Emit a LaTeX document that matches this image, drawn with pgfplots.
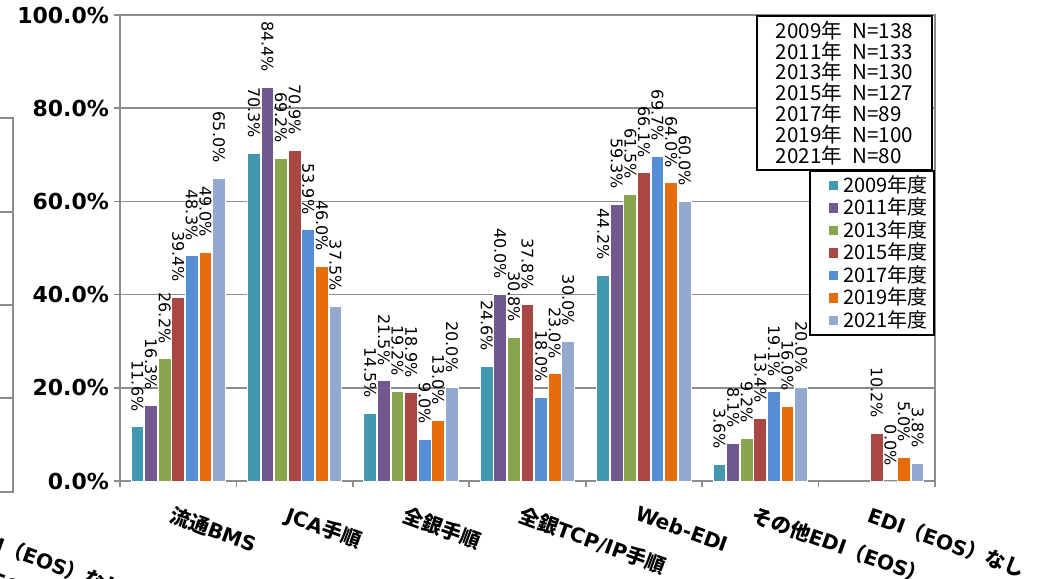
\documentclass[border=0pt]{standalone}
\usepackage{pgfplots}
\pgfplotsset{compat=1.18}
\usepackage{fontspec}
\setmainfont{DejaVu Sans}
\newfontfamily\cjk{Noto Sans CJK JP}
\definecolor{c09}{HTML}{4198AF}
\definecolor{c11}{HTML}{71588F}
\definecolor{c13}{HTML}{89A54E}
\definecolor{c15}{HTML}{AA4643}
\definecolor{c17}{HTML}{558ED5}
\definecolor{c19}{HTML}{E46C0A}
\definecolor{c21}{HTML}{93A9D0}
\definecolor{axgray}{HTML}{8C8C8C}
\newcommand{\xlab}{\bfseries\fontsize{10.1}{10.5}\selectfont}
\begin{document}
\begin{tikzpicture}[x=1pt,y=1pt]
\useasboundingbox (0,0) rectangle (521,289);
% fragment of a neighbouring chart at the left edge
\draw[axgray, line width=1pt] (-40,43) rectangle (6.5,230);
\foreach \yy in {90,136.5,183} \draw[axgray, line width=0.8pt] (-40,\yy) -- (6.5,\yy);
\node[rotate=-20, anchor=north west, inner sep=0pt, font=\xlab] at (-14,27) {EDI{\cjk （}EOS{\cjk ）なし}};
\node[rotate=-20, anchor=north west, inner sep=0pt, font=\xlab] at (-12,8) {{\cjk （}EOS{\cjk ）}};
\begin{axis}[
  at={(60pt,48.5pt)}, anchor=south west, scale only axis,
  width=407.5pt, height=233pt,
  ymin=0, ymax=100, xmin=-0.5, xmax=6.5,
  ybar=0.4pt, bar width=6.4pt,
  /pgf/number format/assume math mode=true,
  axis line style={axgray, line width=1pt},
  ytick={0,20,40,60,80,100},
  yticklabels={0.0\%,20.0\%,40.0\%,60.0\%,80.0\%,100.0\%},
  ymajorgrids, grid style={axgray, line width=0.8pt},
  ytick pos=left, xtick pos=bottom,
  tick align=outside, major tick length=3pt, minor tick length=3pt,
  tick style={axgray, line width=0.8pt},
  xtick={0,...,6},
  major x tick style={draw=none},
  minor xtick={-0.5,0.5,...,6.5},
  xticklabels={{\cjk 流通}BMS,JCA{\cjk 手順},{\cjk 全銀手順},{\cjk 全銀}TCP/IP{\cjk 手順},Web-EDI,{\cjk その他}EDI{\cjk （}EOS{\cjk ）},EDI{\cjk （}EOS{\cjk ）なし}},
  xticklabel style={rotate=-20, anchor=north west, inner sep=0pt, xshift=1pt, yshift=-9pt,
    font=\xlab},
  yticklabel style={font=\bfseries\fontsize{11}{12}\selectfont, xshift=1pt},
  every axis plot/.append style={draw=white, line width=0.5pt},
  nodes near coords={\pgfmathprintnumber[fixed,fixed zerofill,precision=1]{\pgfplotspointmeta}\%},
  every node near coord/.append style={rotate=-90, anchor=east, inner xsep=7.5pt, inner ysep=1pt,
    font=\fontsize{8}{9}\selectfont, text=black},
  legend style={at={(rel axis cs:1,0.667)}, anchor=north east, draw=black, line width=1pt,
    font=\cjk\fontsize{10}{11}\selectfont, row sep=-1.1pt, inner xsep=2pt, inner ysep=1pt,
    nodes={inner sep=1.2pt}},
  legend cell align=left,
  legend image code/.code={\path (0pt,0pt) -- (13pt,0pt); \fill[#1, draw=none] (7.5pt,-2.3pt) rectangle (12pt,2.3pt);},
]
\addplot[fill=c09] coordinates {(0,11.6) (1,70.3) (2,14.5) (3,24.6) (4,44.2) (5,3.6)};
\addplot[fill=c11] coordinates {(0,16.3) (1,84.4) (2,21.5) (3,40.0) (4,59.3) (5,8.1)};
\addplot[fill=c13] coordinates {(0,26.2) (1,69.2) (2,19.2) (3,30.8) (4,61.5) (5,9.2)};
\addplot[fill=c15] coordinates {(0,39.4) (1,70.9) (2,18.9) (3,37.8) (4,66.1) (5,13.4) (6,10.2)};
\addplot[fill=c17] coordinates {(0,48.3) (1,53.9) (2,9.0) (3,18.0) (4,69.7) (5,19.1) (6,0.0)};
\addplot[fill=c19] coordinates {(0,49.0) (1,46.0) (2,13.0) (3,23.0) (4,64.0) (5,16.0) (6,5.0)};
\addplot[fill=c21] coordinates {(0,65.0) (1,37.5) (2,20.0) (3,30.0) (4,60.0) (5,20.0) (6,3.8)};
\legend{2009年度,2011年度,2013年度,2015年度,2017年度,2019年度,2021年度}
\end{axis}
\node[draw=black, line width=1pt, anchor=north east, align=left, fill=white,
  font=\cjk\fontsize{10.3}{10.4}\selectfont, inner xsep=9.5pt, inner ysep=2.5pt]
  at (466.5pt,281.5pt) {2009年\hspace{0.5em}N=138\\2011年\hspace{0.5em}N=133\\2013年\hspace{0.5em}N=130\\2015年\hspace{0.5em}N=127\\2017年\hspace{0.5em}N=89\\2019年\hspace{0.5em}N=100\\2021年\hspace{0.5em}N=80};
\end{tikzpicture}
\end{document}
